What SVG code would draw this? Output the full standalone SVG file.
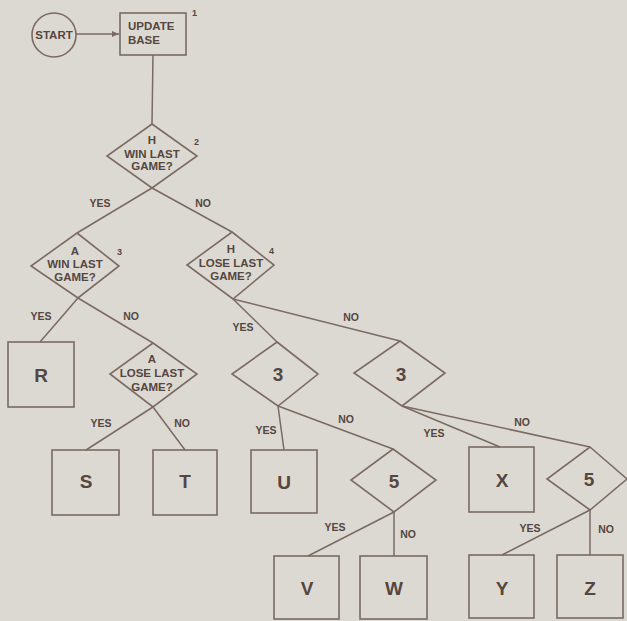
<svg xmlns="http://www.w3.org/2000/svg" width="627" height="621" viewBox="0 0 627 621">
<defs>
<style>
.bg{fill:#dcd9d2}
.shape{fill:none;stroke:#7a6a62;stroke-width:1.6}
.ln{fill:none;stroke:#7a6a62;stroke-width:1.5}
text{font-family:"Liberation Sans",Arial,sans-serif;font-weight:bold;fill:#55463f}
.lbl{font-size:10.5px;text-anchor:middle}
.dt{font-size:11.5px;text-anchor:middle}
.big{font-size:19px;text-anchor:middle}
.num{font-size:9px}
.box{font-size:11.5px}
</style>
<marker id="arr" markerWidth="8" markerHeight="8" refX="7" refY="4" orient="auto" markerUnits="userSpaceOnUse">
<path d="M0,1 L7,4 L0,7 Z" fill="#7a6a62"/>
</marker>
</defs>
<rect class="bg" x="0" y="0" width="627" height="621"/>

<g id="connectors">
<line class="ln" x1="76" y1="34" x2="119" y2="34" marker-end="url(#arr)"/>
<line class="ln" x1="153" y1="55" x2="152" y2="124"/>
<line class="ln" x1="152" y1="188" x2="77" y2="233"/>
<line class="ln" x1="152" y1="188" x2="232" y2="232"/>
<line class="ln" x1="78" y1="298" x2="40" y2="342"/>
<line class="ln" x1="78" y1="298" x2="153" y2="343"/>
<line class="ln" x1="153" y1="407" x2="86" y2="450"/>
<line class="ln" x1="153" y1="407" x2="185" y2="450"/>
<line class="ln" x1="233" y1="299" x2="277" y2="342"/>
<line class="ln" x1="233" y1="299" x2="400" y2="341"/>
<line class="ln" x1="278" y1="406" x2="284" y2="450"/>
<line class="ln" x1="278" y1="406" x2="393" y2="449"/>
<line class="ln" x1="394" y1="512" x2="308" y2="556"/>
<line class="ln" x1="394" y1="512" x2="394" y2="556"/>
<line class="ln" x1="402" y1="406" x2="500" y2="447"/>
<line class="ln" x1="402" y1="406" x2="590" y2="447"/>
<line class="ln" x1="590" y1="510" x2="502" y2="555"/>
<line class="ln" x1="590" y1="510" x2="590" y2="555"/>
<text class="lbl" x="100" y="207">YES</text>
<text class="lbl" x="203" y="207">NO</text>
<text class="lbl" x="41" y="320">YES</text>
<text class="lbl" x="131" y="320">NO</text>
<text class="lbl" x="101" y="427">YES</text>
<text class="lbl" x="182" y="427">NO</text>
<text class="lbl" x="243" y="331">YES</text>
<text class="lbl" x="351" y="321">NO</text>
<text class="lbl" x="266" y="434">YES</text>
<text class="lbl" x="346" y="423">NO</text>
<text class="lbl" x="335" y="531">YES</text>
<text class="lbl" x="408" y="538">NO</text>
<text class="lbl" x="434" y="437">YES</text>
<text class="lbl" x="522" y="426">NO</text>
<text class="lbl" x="530" y="532">YES</text>
<text class="lbl" x="606" y="533">NO</text>
</g>

<g id="start">
<circle class="shape" cx="54" cy="35" r="22"/>
<text class="box" x="54" y="39" text-anchor="middle">START</text>
</g>
<g id="update-base">
<rect class="shape" x="120" y="13" width="66" height="42"/>
<text class="box" x="128" y="30">UPDATE</text>
<text class="box" x="128" y="44">BASE</text>
<text class="num" x="192" y="16">1</text>
</g>
<g id="h-win">
<polygon class="shape" points="152,124 197,156 152,188 107,156"/>
<text class="dt" x="152" y="144">H</text>
<text class="dt" x="152" y="158">WIN LAST</text>
<text class="dt" x="152" y="170">GAME?</text>
<text class="num" x="194" y="145">2</text>
</g>
<g id="a-win">
<polygon class="shape" points="77,233 119,266 78,298 31,266"/>
<text class="dt" x="75" y="255">A</text>
<text class="dt" x="75" y="268">WIN LAST</text>
<text class="dt" x="75" y="281">GAME?</text>
<text class="num" x="117" y="255">3</text>
</g>
<g id="h-lose">
<polygon class="shape" points="232,232 274,265 233,299 187,265"/>
<text class="dt" x="231" y="253">H</text>
<text class="dt" x="231" y="267">LOSE LAST</text>
<text class="dt" x="231" y="280">GAME?</text>
<text class="num" x="269" y="254">4</text>
</g>
<g id="a-lose">
<polygon class="shape" points="153,343 197,374 153,407 110,374"/>
<text class="dt" x="152" y="363">A</text>
<text class="dt" x="152" y="377">LOSE LAST</text>
<text class="dt" x="152" y="391">GAME?</text>
</g>
<g id="r"><rect class="shape" x="8" y="342" width="66" height="65"/><text class="big" x="41" y="382">R</text></g>
<g id="s"><rect class="shape" x="52" y="450" width="67" height="65"/><text class="big" x="86" y="488">S</text></g>
<g id="t"><rect class="shape" x="153" y="450" width="64" height="65"/><text class="big" x="185" y="488">T</text></g>
<g id="d3a">
<polygon class="shape" points="277,342 318,374 278,406 232,374"/>
<text class="big" x="278" y="381">3</text>
</g>
<g id="d3b">
<polygon class="shape" points="400,341 445,373 402,406 354,373"/>
<text class="big" x="401" y="381">3</text>
</g>
<g id="u"><rect class="shape" x="251" y="450" width="66" height="63"/><text class="big" x="284" y="489">U</text></g>
<g id="d5a">
<polygon class="shape" points="393,449 436,480 394,512 351,480"/>
<text class="big" x="394" y="488">5</text>
</g>
<g id="v"><rect class="shape" x="274" y="556" width="65" height="63"/><text class="big" x="307" y="595">V</text></g>
<g id="w"><rect class="shape" x="360" y="556" width="67" height="63"/><text class="big" x="394" y="595">W</text></g>
<g id="x"><rect class="shape" x="469" y="447" width="65" height="65"/><text class="big" x="502" y="487">X</text></g>
<g id="d5b">
<polygon class="shape" points="590,447 627,479 590,510 547,479"/>
<text class="big" x="589" y="486">5</text>
</g>
<g id="y"><rect class="shape" x="469" y="555" width="65" height="63"/><text class="big" x="502" y="595">Y</text></g>
<g id="z"><rect class="shape" x="557" y="555" width="66" height="63"/><text class="big" x="590" y="595">Z</text></g>
</svg>
